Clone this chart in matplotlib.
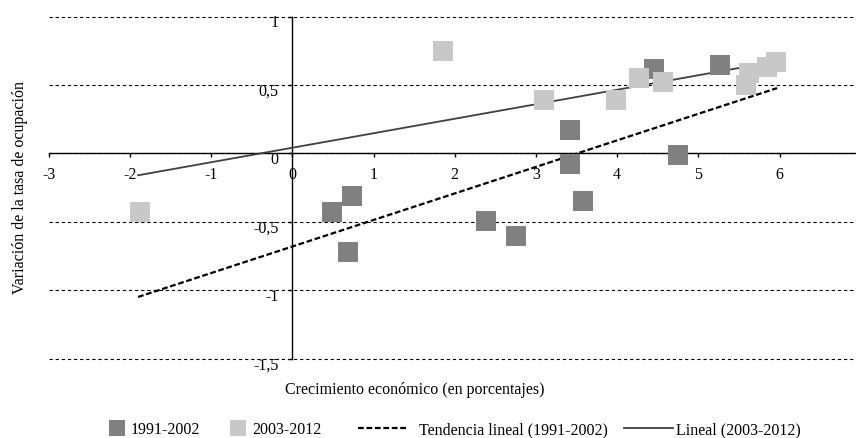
import numpy as np
import matplotlib
matplotlib.use("Agg")
import matplotlib.pyplot as plt
from matplotlib.lines import Line2D
import matplotlib.transforms as mtransforms

# datos
x_9102 = [0.49, 0.73, 0.68, 2.39, 2.76, 3.42, 3.42, 3.58, 4.45, 4.75, 5.27]
y_9102 = [-0.43, -0.31, -0.72, -0.49, -0.60, 0.17, -0.08, -0.35, 0.62, -0.01, 0.65]

x_0312 = [-1.88, 1.85, 3.10, 3.99, 4.27, 4.57, 5.59, 5.62, 5.85, 5.96]
y_0312 = [-0.43, 0.75, 0.39, 0.39, 0.55, 0.52, 0.50, 0.59, 0.63, 0.67]

# tendencias lineales (pendiente, ordenada) y rango de x
trend_x = [-1.9, 5.97]
coef_9102 = (0.194, -0.68)
coef_0312 = (0.106, 0.042)

x_ticks = list(range(-3, 8))
y_ticks = [-1.5, -1, -0.5, 0, 0.5, 1]
y_ticklabels = ["-1,5", "-1", "-0,5", "0", "0,5", "1"]

series_labels = ["1991-2002", "2003-2012",
                 "Tendencia lineal (1991-2002)", "Lineal (2003-2012)"]

dark = "#808080"
light = "#c8c8c8"
fs = 11.5

plt.rcParams["font.family"] = ["Liberation Serif", "DejaVu Serif"]
plt.rcParams["axes.unicode_minus"] = False

fig = plt.figure(figsize=(8.56, 4.38), dpi=100)
ax = fig.add_axes([48.7 / 856, 1 - 358.7 / 438, 812 / 856, 342 / 438])
ax.set_xlim(-3, 7)
ax.set_ylim(-1.5, 1)

tx = np.array(trend_x)
ax.plot(tx, coef_9102[0] * tx + coef_9102[1], color="black", lw=1.6,
        linestyle=(0, (2.6, 1.2)), zorder=3)
ax.plot(tx, coef_0312[0] * tx + coef_0312[1], color="#404040", lw=1.3, zorder=3)

ax.plot(x_9102, y_9102, "s", color=dark, ms=13.7, mew=0, zorder=4)
ax.plot(x_0312, y_0312, "s", color=light, ms=13.7, mew=0, zorder=5)

# ejes en el centro
for s in ["top", "right"]:
    ax.spines[s].set_visible(False)
ax.spines["left"].set_position(("data", 0))
ax.spines["bottom"].set_position(("data", 0))
ax.spines["left"].set_linewidth(1.0)
ax.spines["bottom"].set_linewidth(1.0)

ax.set_xticks(x_ticks)
ax.set_yticks(y_ticks)
ax.set_yticklabels(y_ticklabels)
ax.tick_params(axis="x", direction="out", length=3, width=1, pad=7, labelsize=fs)
ax.tick_params(axis="y", direction="out", length=3, width=1, pad=7, labelsize=fs)
off = mtransforms.ScaledTranslation(0, -0.045, fig.dpi_scale_trans)
for lab in ax.get_yticklabels():
    lab.set_transform(lab.get_transform() + off)

ax.yaxis.grid(True, color="black", lw=0.8, linestyle=(0, (3, 2.5)))
for gl in ax.get_ygridlines():
    gl.set_clip_on(False)
ax.set_axisbelow(True)

fig.text(20.5 / 856, 1 - 187 / 438, "Variación de la tasa de ocupación",
         rotation=90, ha="center", va="center", fontsize=fs)
fig.text(415 / 856, 1 - 390 / 438, "Crecimiento económico (en porcentajes)",
         ha="center", va="center", fontsize=fs)

# leyenda
leg_y = 1 - 430 / 438
handles = [
    Line2D([], [], marker="s", color=dark, ls="none", ms=11.5, mew=0),
    Line2D([], [], marker="s", color=light, ls="none", ms=11.5, mew=0),
    Line2D([], [], color="black", lw=1.6, linestyle=(0, (2.6, 1.2))),
    Line2D([], [], color="#404040", lw=1.3),
]
leg_x = [109, 230, 358, 624]
leg_hl = [1.0, 1.0, 3.13, 3.07]
leg_pad = [0.38, 0.38, 0.69, 0.19]
for h, lab, lx, hl, tp in zip(handles, series_labels, leg_x, leg_hl, leg_pad):
    lg = fig.legend([h], [lab], loc="center left", bbox_to_anchor=(lx / 856, leg_y),
                    frameon=False, fontsize=fs, handlelength=hl, handletextpad=tp,
                    borderpad=0, borderaxespad=0, numpoints=1)

fig.savefig("out.png", dpi=100)
